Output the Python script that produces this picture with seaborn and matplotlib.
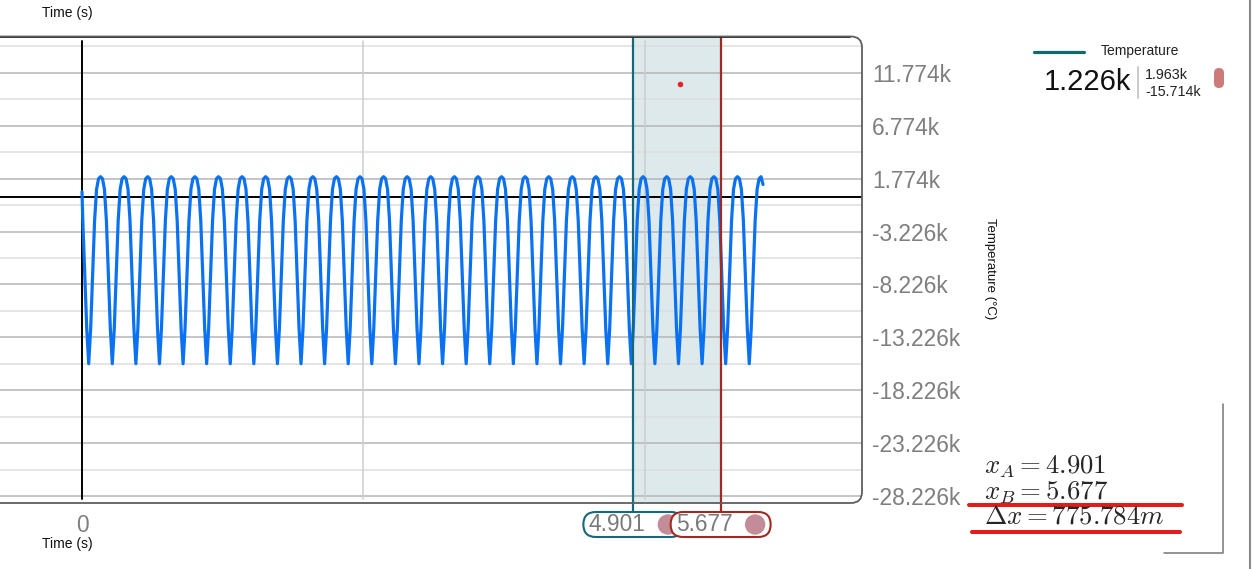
import numpy as np
import pandas as pd
import matplotlib
matplotlib.use("Agg")
import matplotlib.pyplot as plt
import seaborn as sns
from matplotlib.patches import FancyBboxPatch, Circle
from matplotlib.lines import Line2D
from matplotlib.transforms import Affine2D

# --- values ---
period_s = 0.2097          # one oscillation
first_trough_s = 0.0596    # time of first minimum
n_cycles = 28              # full cycles between first and last minimum
# one period of the temperature trace, sampled from trough to trough
cycle_temp = [-15714, -12390, -7320, -2170, 780, 1780, 1963, 1780, 780, -2170, -7320, -12390]
start_temp = 545
end_temp = 1226

y_ticks = [11774, 6774, 1774, -3226, -8226, -13226, -18226, -23226, -28226]
x_grid = [2.5, 5.0]
cursors = [4.90096, 5.676744]
cursor_colors = ["#17687a", "#a3281f"]
marker_pt = (5.316, 10725)

# build the trace (the readings repeat every period)
body = cycle_temp[9:] + cycle_temp * n_cycles + cycle_temp[:7] + [end_temp]
dt = period_s / len(cycle_temp)
t_body = first_trough_s + dt * (np.arange(len(body)) - 3)
df = pd.DataFrame({"time": np.r_[0.0, t_body], "temp": [start_temp] + body})

sns.set_theme(style="white")
plt.rcParams["font.family"] = ["Liberation Sans", "DejaVu Sans"]
plt.rcParams["mathtext.fontset"] = "cm"

W, H = 1252, 569
fig = plt.figure(figsize=(W / 100, H / 100), dpi=100)
# pixel coords measured from the top-left corner
PX = Affine2D().scale(1, -1).translate(0, H).scale(1 / 100) + fig.dpi_scale_trans

ax_l, ax_r, ax_t, ax_b = -30, 862, 36.5, 503
ax = fig.add_axes([ax_l / W, 1 - ax_b / H, (ax_r - ax_l) / W, (ax_b - ax_t) / H])
ax.set_xlim((ax_l - 82) / 112.5, (ax_r - 82) / 112.5)
ax.set_ylim(-28879, 15215)
for s in ax.spines.values():
    s.set_visible(False)

# grid
ax.yaxis.tick_right()
ax.set_yticks(y_ticks)
ax.set_yticklabels([f"{v / 1000:.3f}k" for v in y_ticks])
ax.set_yticks([v + 2500 for v in y_ticks], minor=True)
ax.tick_params(axis="y", which="both", length=0, pad=7.2, labelsize=16.4, labelcolor="#7f7f7f")
ax.grid(axis="y", which="major", color="#b5b5b5", lw=1.1, zorder=1)
ax.grid(axis="y", which="minor", color="#dedede", lw=1.1, zorder=1)
ax.set_axisbelow(True)
ax.set_xticks([0])
ax.set_xticklabels(["0"])
ax.tick_params(axis="x", length=0, pad=8, labelsize=16.4, labelcolor="#7f7f7f")
for xg in x_grid:
    ax.axvline(xg, ymin=0.009, ymax=0.99, color="#cdcdcd", lw=1.1, zorder=1)

# selection band between cursors
ax.axvspan(cursors[0], cursors[1], color="#dde9eb", zorder=0.5, lw=0)

ax.axhline(0, color="black", lw=1.4, zorder=2)
ax.axvline(0, ymin=0.009, ymax=0.99, color="black", lw=1.4, zorder=2)

sns.lineplot(data=df, x="time", y="temp", ax=ax, color="#0a72f2", lw=2.3, sort=False, zorder=3)
ax.set_xlabel("")
ax.set_ylabel("")

ax.plot([marker_pt[0]], [marker_pt[1]], "o", color="#e3262a", ms=3, zorder=4)

# cursor lines reach down to their value pills
for c, col in zip(cursors, cursor_colors):
    ax.axvline(c, ymin=-0.0193, ymax=1.0, color=col, lw=1.6, zorder=4, clip_on=False)

# rounded frame
frame = FancyBboxPatch((ax_l, ax_t), ax_r - ax_l, ax_b - ax_t,
                       boxstyle="round,pad=0,rounding_size=11", transform=PX,
                       fc="none", ec="#5e5e5e", lw=1.3, zorder=5)
fig.add_artist(frame)
fig.add_artist(Line2D([0, 850], [ax_t, ax_t], transform=PX, color="#111111", lw=1.3))

# cursor value pills
fig.canvas.draw()
for i, (c, col) in enumerate(zip(cursors, cursor_colors)):
    cx = ax.transData.transform((c, 0))[0]
    pill = FancyBboxPatch((cx - 50, 512), 100, 25, boxstyle="round,pad=0,rounding_size=12.5",
                          transform=PX, fc="white", ec=col, lw=1.5, zorder=10 + 2 * i)
    fig.add_artist(pill)
    fig.add_artist(Circle((cx + 34.5, 524.5), 9.5, transform=PX, color="#c28c98", zorder=11 + 2 * i))
    t = fig.text(cx - 45, 524.5, f"{c:.3f}", transform=PX, ha="left", va="center",
                 fontsize=16.4, color="#7a7a7a")
    t.set_zorder(11 + 2 * i)

# axis titles
fig.text(67.5, 12.5, "Time (s)", transform=PX, ha="center", va="center", fontsize=10, color="#111")
fig.text(67.5, 544, "Time (s)", transform=PX, ha="center", va="center", fontsize=10, color="#111")
fig.text(990, 269, "Temperature (°C)", transform=PX, ha="center", va="center",
         rotation=270, fontsize=9.5, color="#111")

# legend block
temps = df["temp"]
fig.add_artist(Line2D([1034, 1084], [52, 52], transform=PX, color="#0f6b6b", lw=2.3))
fig.text(1101, 51.5, "Temperature", transform=PX, ha="left", va="center", fontsize=10, color="#222")
fig.text(1131, 82, f"{temps.iloc[-1] / 1000:.3f}k", transform=PX, ha="right", va="center",
         fontsize=21, color="#111")
fig.add_artist(Line2D([1138, 1138], [67, 98], transform=PX, color="#c0c0c0", lw=1.2))
fig.text(1145, 75, f"{temps.max() / 1000:.3f}k", transform=PX, ha="left", va="center",
         fontsize=10.3, color="#222")
fig.text(1145, 92, f"{temps.min() / 1000:.3f}k", transform=PX, ha="left", va="center",
         fontsize=10.3, color="#222")
fig.add_artist(FancyBboxPatch((1214, 68), 10, 20, boxstyle="round,pad=0,rounding_size=5",
                              transform=PX, fc="#cc7b7b", ec="none"))

# cursor readout
delta_ms = (cursors[1] - cursors[0]) * 1000
fig.text(984, 473, rf"$x_A = {cursors[0]:.3f}$", transform=PX, ha="left", va="baseline", fontsize=19.3)
fig.text(984, 499, rf"$x_B = {cursors[1]:.3f}$", transform=PX, ha="left", va="baseline", fontsize=19.3)
fig.text(984, 524, rf"$\Delta x = {delta_ms:.3f}m$", transform=PX, ha="left", va="baseline", fontsize=19.3)
fig.add_artist(Line2D([969, 1182], [505, 505], transform=PX, color="#e31b1b", lw=2.9,
                      solid_capstyle="round"))
fig.add_artist(Line2D([972, 1180], [531.5, 531.5], transform=PX, color="#e31b1b", lw=2.9,
                      solid_capstyle="round"))

# panel edges on the right
fig.add_artist(Line2D([1223, 1223, 1164], [404, 553, 553], transform=PX, color="#777777", lw=1.1))
fig.add_artist(Line2D([1249.5, 1249.5], [0, H], transform=PX, color="#8a8a8a", lw=1.5))

fig.savefig("out.png", dpi=100)
